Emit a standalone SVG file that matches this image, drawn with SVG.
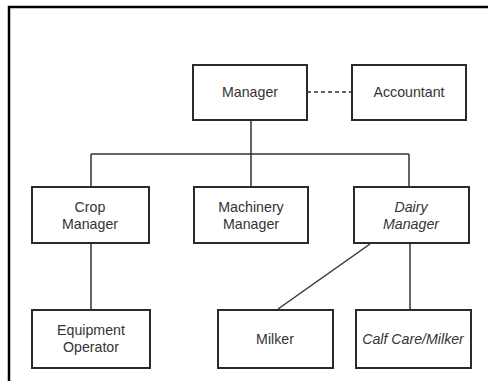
<svg xmlns="http://www.w3.org/2000/svg" width="488" height="381" viewBox="0 0 488 381">
<style>
.box{fill:#fff;stroke:#2a2a2a;stroke-width:2}
.t{font-family:"Liberation Sans",Arial,sans-serif;font-size:14.2px;fill:#333;text-anchor:middle;dominant-baseline:central}
.i{font-style:italic}
.c{stroke:#333;stroke-width:1.5;fill:none}
</style>
<rect width="488" height="381" fill="#fff"/>
<path d="M9 381 V7 H488" fill="none" stroke="#000" stroke-width="2.5"/>
<g id="connectors">
<path class="c" d="M251 120 V154 M91 154 H409 M91 154 V187 M251 154 V187 M409 154 V187"/>
<path class="c" d="M307 92 H352" stroke-dasharray="4,3"/>
<path class="c" d="M91 243 V310"/>
<path class="c" d="M410 243 V310"/>
<path class="c" d="M370 244 L278 309"/>
</g>
<g id="manager"><rect class="box" x="193" y="65" width="114" height="55"/><text class="t" x="250" y="92">Manager</text></g>
<g id="accountant"><rect class="box" x="352" y="65" width="114" height="55"/><text class="t" x="409" y="92">Accountant</text></g>
<g id="crop"><rect class="box" x="32" y="187" width="117" height="56"/><text class="t" x="90" y="207">Crop</text><text class="t" x="90" y="224">Manager</text></g>
<g id="machinery"><rect class="box" x="194" y="187" width="114" height="56"/><text class="t" x="251" y="207">Machinery</text><text class="t" x="251" y="224">Manager</text></g>
<g id="dairy"><rect class="box" x="354" y="187" width="115" height="56"/><text class="t i" x="411" y="207">Dairy</text><text class="t i" x="411" y="224">Manager</text></g>
<g id="equipment"><rect class="box" x="32" y="310" width="118" height="58"/><text class="t" x="91" y="330">Equipment</text><text class="t" x="91" y="347">Operator</text></g>
<g id="milker"><rect class="box" x="218" y="310" width="115" height="58"/><text class="t" x="275" y="339">Milker</text></g>
<g id="calf"><rect class="box" x="356" y="310" width="115" height="58"/><text class="t i" x="413" y="339">Calf Care/Milker</text></g>
</svg>
